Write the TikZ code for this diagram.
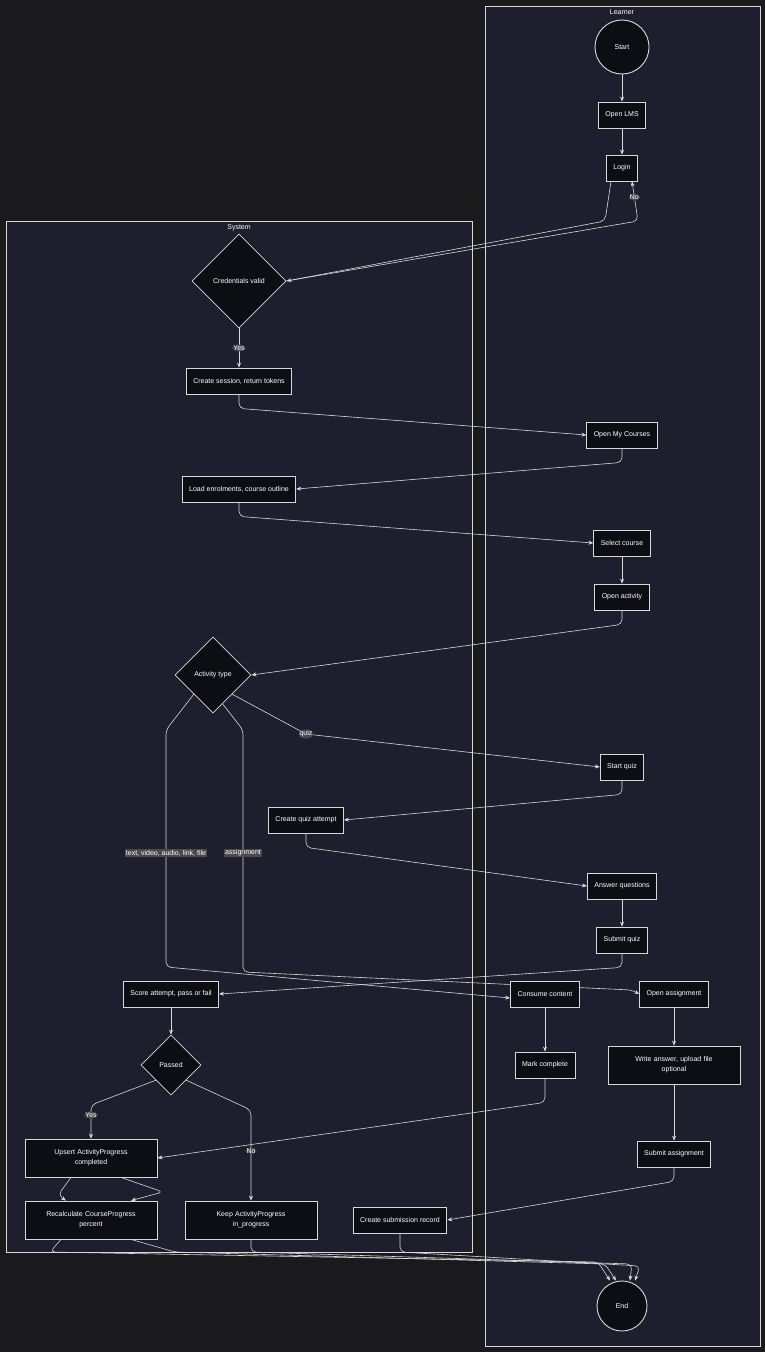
\documentclass[tikz,border=0pt]{standalone}
\usepackage{fontspec}
\setmainfont{Liberation Sans}
\usepackage{tikz}
\usetikzlibrary{arrows.meta}
\usetikzlibrary{shapes.geometric}
\usetikzlibrary{calc}
\usetikzlibrary{backgrounds}
\definecolor{pagebg}{HTML}{1A1A1D}
\definecolor{lanebg}{HTML}{1E1E2E}
\definecolor{boxbg}{HTML}{0D0D14}
\definecolor{edgecol}{HTML}{D8D8D8}
\definecolor{lblbg}{HTML}{4A4A4E}

\begin{document}
\begin{tikzpicture}[x=1pt,y=-1pt,font=\fontsize{7}{10}\selectfont,
  actbox/.style={draw=edgecol,fill=boxbg,text=white,line width=0.8pt,minimum height=26pt,inner xsep=7pt,align=center},
  big/.style={actbox,minimum height=38pt,text width=118pt},
  decide/.style={diamond,draw=edgecol,fill=boxbg,text=white,line width=0.8pt,aspect=1,inner sep=1pt},
  term/.style={circle,draw=edgecol,fill=boxbg,text=white,line width=0.9pt},
  lane/.style={draw=edgecol,fill=lanebg,line width=0.6pt},
  flow/.style={draw=edgecol,line width=0.6pt,rounded corners=5pt,-{Stealth[length=5pt,width=4pt]}},
  lbl/.style={fill=lblbg,text=white,inner sep=1pt}]
\useasboundingbox (0,0) rectangle (765,1352);
\begin{scope}[on background layer]
  \fill[pagebg] (0,0) rectangle (765,1352);
  \draw[lane] (485,6) rectangle (760,1346);
  \draw[lane] (6,221) rectangle (472,1252);
\end{scope}
\node[text=white] at (622,12) {Learner};
\node[text=white] at (239,228) {System};
% Learner lane
\node[term,minimum size=54pt] (start) at (622,47) {Start};
\node[actbox] (openlms) at (622,115) {Open LMS};
\node[actbox] (login) at (622,168) {Login};
\node[actbox] (mycourses) at (622,435) {Open My Courses};
\node[actbox] (selcourse) at (622,543) {Select course};
\node[actbox] (openact) at (622,597) {Open activity};
\node[actbox] (startquiz) at (622,767) {Start quiz};
\node[actbox] (answer) at (622,886) {Answer questions};
\node[actbox] (submitquiz) at (622,940) {Submit quiz};
\node[actbox] (consume) at (545,994) {Consume content};
\node[actbox] (openassign) at (674,994) {Open assignment};
\node[actbox] (markdone) at (545,1065) {Mark complete};
\node[big] (write) at (674,1065) {Write answer, upload file\\optional};
\node[actbox] (submitassign) at (674,1154) {Submit assignment};
\node[term,minimum size=50pt] (finish) at (622,1306) {End};
% System lane
\node[decide,minimum size=94pt] (credok) at (239,281) {Credentials valid};
\node[actbox] (session) at (239,381) {Create session, return tokens};
\node[actbox] (enrol) at (239,489) {Load enrolments, course outline};
\node[decide,minimum size=76pt] (acttype) at (213,675) {Activity type};
\node[actbox] (quizattempt) at (306,820) {Create quiz attempt};
\node[actbox] (score) at (171,994) {Score attempt, pass or fail};
\node[decide,minimum size=60pt] (passed) at (171,1065) {Passed};
\node[big] (upsert) at (91,1158) {Upsert ActivityProgress\\completed};
\node[big] (recalc) at (91,1220) {Recalculate CourseProgress\\percent};
\node[big] (keep) at (251,1220) {Keep ActivityProgress\\in\_progress};
\node[actbox] (subrecord) at (400,1220) {Create submission record};
\begin{scope}[on background layer]
\draw[flow] (start) -- (openlms);
\draw[flow] (openlms) -- (login);
\draw[flow] ([xshift=-11pt]login.south) -- (605,221) -- (credok.east);
\draw[flow] (credok.east) -- (638,221) -- ([xshift=10pt]login.south) node[lbl,pos=0.6] {No};
\draw[flow] (credok.south) -- (session.north) node[lbl,pos=0.5] {Yes};
\draw[flow] (session.south) -- ++(0,14) -- (mycourses.west);
\draw[flow] (mycourses.south) -- ++(0,14) -- (enrol.east);
\draw[flow] (enrol.south) -- ++(0,14) -- (selcourse.west);
\draw[flow] (selcourse) -- (openact);
\draw[flow] (openact.south) -- ++(0,14) -- (acttype.east);
\draw[flow] (acttype.south east) -- (306,734) node[lbl] {quiz} -- (startquiz.west);
\draw[flow] (acttype.south west) -- (166,730) -- (166,967) -- ([yshift=-4pt]consume.west);
\node[lbl] at (166,853) {text, video, audio, link, file};
\draw[flow] ($(acttype.south)!0.5!(acttype.south east)$) -- (243,730) -- (243,972) -- (500,984) -- (632,990) -- (openassign.west);
\node[lbl] at (243,853) {assignment};
\draw[flow] (startquiz.south) -- ++(0,14) -- (quizattempt.east);
\draw[flow] (quizattempt.south) -- ++(0,14) -- (answer.west);
\draw[flow] (answer) -- (submitquiz);
\draw[flow] (submitquiz.south) -- ++(0,14) -- (score.east);
\draw[flow] (consume) -- (markdone);
\draw[flow] (openassign) -- (write);
\draw[flow] (write) -- (submitassign);
\draw[flow] (score) -- (passed);
\draw[flow] (passed.south west) -- (91,1105) -- (upsert.north) node[lbl,pos=0.3] {Yes};
\draw[flow] (passed.south east) -- (251,1110) -- (keep.north) node[lbl,pos=0.45] {No};
\draw[flow] (markdone.south) -- ++(0,24) -- (upsert.east);
\draw[flow] (submitassign.south) -- ++(0,14) -- (subrecord.east);
\draw[flow] ([xshift=-20pt]upsert.south) -- (58,1195) -- ([xshift=-25pt]recalc.north);
\draw[flow] ([xshift=30pt]upsert.south) -- (163,1192) -- ([xshift=40pt]recalc.north);
\draw[flow] ([xshift=-30pt]recalc.south) -- (50,1252) -- (598,1262) -- ([xshift=-12pt]finish.north);
\draw[flow] ([xshift=40pt]recalc.south) -- (175,1252) -- (605,1264) -- ([xshift=-6pt]finish.north);
\draw[flow] (keep.south) -- (251,1252) -- (632,1264) -- ([xshift=8pt]finish.north);
\draw[flow] (subrecord.south) -- (400,1252) -- (640,1266) -- ([xshift=13pt]finish.north);
\end{scope}
\end{tikzpicture}
\end{document}
